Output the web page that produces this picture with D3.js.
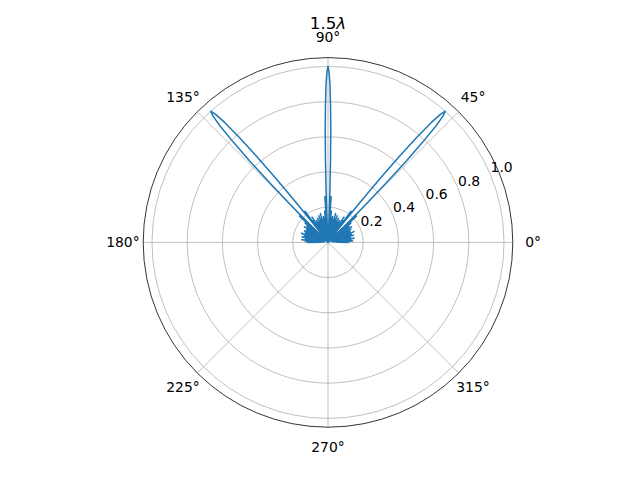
<!DOCTYPE html>
<html>
<head>
<meta charset="utf-8">
<script src="https://cdn.jsdelivr.net/npm/d3@7"></script>
<style>
  html, body { margin: 0; padding: 0; background: #fff; }
  svg { display: block; }
  text { font-family: "DejaVu Sans", sans-serif; }
</style>
</head>
<body>
<svg id="chart" width="640" height="480"></svg>
<script>
// ---- data ----
const title = "1.5";
const thetaTicks = [0, 45, 90, 135, 180, 225, 270, 315];
const thetaTickLabels = ["0°", "45°", "90°", "135°", "180°", "225°", "270°", "315°"];
const rTicks = [0.2, 0.4, 0.6, 0.8, 1.0];
const rTickLabels = ["0.2", "0.4", "0.6", "0.8", "1.0"];
const rMax = 1.05;

// pattern angle (degrees) and normalised gain
const angleDeg = [
  0, 1.5, 3, 4.5, 6, 7.5, 9, 10.5, 12, 13.5, 15.5, 17.2, 19, 20.8, 22.6, 24.4, 26.2, 28, 29.8, 31.6,
  33.4, 35.2, 37, 38.8, 40.2, 41.6, 42.8, 44.0,
  44.52, 45.05, 45.57, 46.1, 46.63, 47.15, 47.68, 48.2, 48.72, 49.25, 49.77, 50.3, 50.83, 51.35, 51.88, 52.4,
  53.5, 54.6, 55.7, 56.75, 57.85, 58.95, 60.0, 61.1, 62.2, 63.3, 64.4, 65.45, 66.5, 67.6, 68.7, 69.8,
  70.9, 71.95, 73.05, 74.15, 75.2, 76.3, 77.4, 78.5, 79.6, 80.65, 81.75, 82.85, 83.9, 85.0, 86.1, 87.2,
  87.55, 87.9, 88.25, 88.6, 88.95, 89.3, 89.65, 90, 90.35, 90.7, 91.05, 91.4, 91.75, 92.1, 92.45, 92.8,
  93.9, 95.0, 96.1, 97.15, 98.25, 99.35, 100.4, 101.5, 102.6, 103.7, 104.8, 105.85, 106.95, 108.05, 109.1, 110.2,
  111.3, 112.4, 113.5, 114.55, 115.6, 116.7, 117.8, 118.9, 120.0, 121.05, 122.15, 123.25, 124.3, 125.4, 126.5, 127.6,
  128.12, 128.65, 129.17, 129.7, 130.23, 130.75, 131.28, 131.8, 132.32, 132.85, 133.37, 133.9, 134.43, 134.95, 135.48, 136.0,
  137.2, 138.4, 139.8, 141.2, 143, 144.8, 146.6, 148.4, 150.2, 152, 153.8, 155.6, 157.4, 159.2, 161, 162.8,
  164.5, 166.5, 168, 169.5, 171, 172.5, 174, 175.5, 177, 178.5, 180
];
const gain = [
  0.12, 0.05, 0.14, 0.04, 0.13, 0.03, 0.15, 0.03, 0.13, 0.02, 0.15, 0.02, 0.14, 0.02, 0.16, 0.02, 0.14, 0.02, 0.15, 0.02,
  0.16, 0.02, 0.15, 0.02, 0.17, 0.02, 0.22, 0.0,
  0.14, 0.30, 0.47, 0.64, 0.78, 0.90, 0.97, 1.0, 0.97, 0.90, 0.78, 0.64, 0.47, 0.30, 0.14, 0.0,
  0.22, 0.02, 0.15, 0.02, 0.17, 0.02, 0.13, 0.02, 0.14, 0.02, 0.12, 0.02, 0.15, 0.02, 0.13, 0.02,
  0.16, 0.02, 0.14, 0.02, 0.17, 0.02, 0.13, 0.02, 0.15, 0.02, 0.14, 0.02, 0.18, 0.02, 0.26, 0.0,
  0.14, 0.30, 0.47, 0.64, 0.78, 0.90, 0.97, 1.0, 0.97, 0.90, 0.78, 0.64, 0.47, 0.30, 0.14, 0.0,
  0.26, 0.02, 0.18, 0.02, 0.14, 0.02, 0.15, 0.02, 0.13, 0.02, 0.17, 0.02, 0.14, 0.02, 0.16, 0.02,
  0.13, 0.02, 0.15, 0.02, 0.12, 0.02, 0.14, 0.02, 0.13, 0.02, 0.17, 0.02, 0.15, 0.02, 0.22, 0.0,
  0.14, 0.30, 0.47, 0.64, 0.78, 0.90, 0.97, 1.0, 0.97, 0.90, 0.78, 0.64, 0.47, 0.30, 0.14, 0.0,
  0.22, 0.02, 0.17, 0.02, 0.15, 0.02, 0.16, 0.02, 0.14, 0.02, 0.15, 0.02, 0.14, 0.02, 0.16, 0.02,
  0.14, 0.02, 0.15, 0.02, 0.13, 0.03, 0.15, 0.03, 0.13, 0.04, 0.12
];

// ---- layout ----
const cx = 328, cy = 242.4, R = 184.8;
const svg = d3.select("#chart");
const g = svg.append("g").attr("transform", `translate(${cx},${cy})`);
const r = d3.scaleLinear().domain([0, rMax]).range([0, R]);
const toRad = d => d * Math.PI / 180;
// d3 radial angle is clockwise from 12 o'clock; matplotlib theta is CCW from east
const dAngle = deg => Math.PI / 2 - toRad(deg);

g.append("circle").attr("r", R).attr("fill", "#fff");

// grid: circles
g.selectAll("circle.grid").data(rTicks).enter().append("circle")
  .attr("class", "grid").attr("r", d => r(d))
  .attr("fill", "none").attr("stroke", "#b0b0b0").attr("stroke-width", 0.8);

// grid: spokes
g.selectAll("line.spoke").data(thetaTicks).enter().append("line")
  .attr("x1", 0).attr("y1", 0)
  .attr("x2", d => R * Math.cos(toRad(d)))
  .attr("y2", d => -R * Math.sin(toRad(d)))
  .attr("stroke", "#b0b0b0").attr("stroke-width", 0.8);

// data line
const pts = angleDeg.map((a, i) => ({ a, v: gain[i] }));
const line = d3.lineRadial().angle(d => dAngle(d.a)).radius(d => r(d.v));
g.append("path").datum(pts).attr("d", line)
  .attr("fill", "none").attr("stroke", "#1f77b4").attr("stroke-width", 1.5)
  .attr("stroke-linejoin", "round");

// outer spine
g.append("circle").attr("r", R).attr("fill", "none").attr("stroke", "#000").attr("stroke-width", 0.8);

// theta tick labels
const labR = R + 20.3;
g.selectAll("text.theta").data(thetaTicks).enter().append("text")
  .attr("x", d => labR * Math.cos(toRad(d)))
  .attr("y", d => -labR * Math.sin(toRad(d)) + 5)
  .attr("text-anchor", "middle").attr("font-size", "13.9px").attr("fill", "#000")
  .text((d, i) => thetaTickLabels[i]);

// radial tick labels at 22.5°
const rl = toRad(22.5);
g.selectAll("text.rlab").data(rTicks).enter().append("text")
  .attr("x", d => r(d) * Math.cos(rl))
  .attr("y", d => -r(d) * Math.sin(rl) - 3)
  .attr("text-anchor", "start").attr("font-size", "13.9px").attr("fill", "#000")
  .text((d, i) => rTickLabels[i]);

// title
const t = svg.append("text").attr("x", cx).attr("y", 29)
  .attr("text-anchor", "middle").attr("font-size", "16.7px").attr("fill", "#000");
t.append("tspan").text(title);
t.append("tspan").attr("font-style", "italic").text("λ");
</script>
</body>
</html>
